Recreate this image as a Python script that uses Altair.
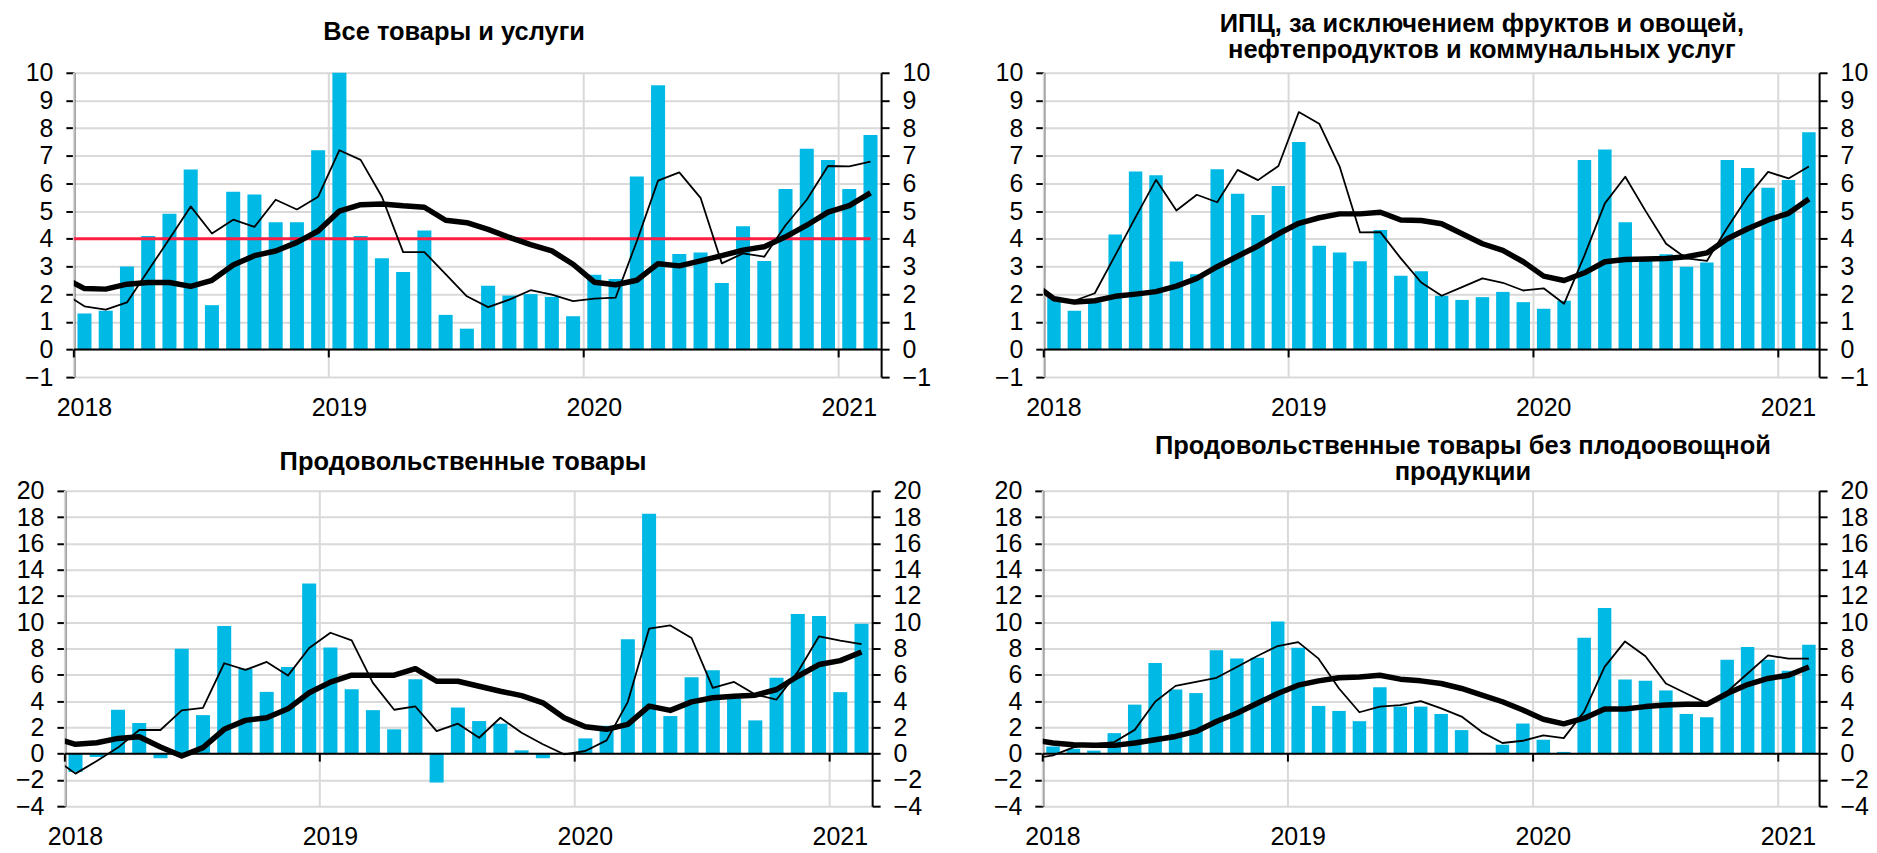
import altair as alt
import pandas as pd

# ---------------- data ----------------
years = [2018, 2019, 2020, 2021]          # Jan 2018 .. Feb 2021 monthly
target = 4.0                               # inflation target line (panel 1)

titles = [
    ["Все товары и услуги"],
    ["ИПЦ, за исключением фруктов и овощей,", "нефтепродуктов и коммунальных услуг"],
    ["Продовольственные товары"],
    ["Продовольственные товары без плодоовощной", "продукции"],
]

# monthly bars, Jan 2018 .. Feb 2021 (38 values)
bars_all = [1.3, 1.4, 3.0, 4.1, 4.9, 6.5, 1.6, 5.7, 5.6, 4.6, 4.6, 7.2,
            10.0, 4.1, 3.3, 2.8, 4.3, 1.25, 0.75, 2.3, 1.95, 2.0, 1.9, 1.2,
            2.7, 2.55, 6.25, 9.55, 3.45, 3.5, 2.4, 4.45, 3.2, 5.8, 7.25, 6.85,
            5.8, 7.75]
# lines, Dec 2017 .. Feb 2021 (39 values)
thin_all = [2.05, 1.56, 1.44, 1.7, 2.85, 4.0, 5.17, 4.19, 4.69, 4.43, 5.41, 5.06, 5.52,
            7.2, 6.85, 5.52, 3.52, 3.52, 2.72, 1.92, 1.53, 1.8, 2.14, 1.98, 1.75,
            1.84, 1.87, 3.91, 6.1, 6.4, 5.48, 3.11, 3.47, 3.35, 4.49, 5.41, 6.63,
            6.62, 6.79]
thick_all = [2.6, 2.2, 2.18, 2.36, 2.42, 2.42, 2.28, 2.5, 3.05, 3.39, 3.56, 3.87, 4.28,
             5.0, 5.23, 5.26, 5.19, 5.14, 4.67, 4.58, 4.34, 4.05, 3.79, 3.56, 3.08,
             2.43, 2.34, 2.5, 3.1, 3.02, 3.2, 3.39, 3.59, 3.71, 4.07, 4.49, 4.96,
             5.2, 5.66]

bars_core = [1.9, 1.4, 1.7, 4.15, 6.43, 6.3, 3.18, 2.72, 6.51, 5.63, 4.86, 5.91,
             7.5, 3.75, 3.5, 3.19, 4.32, 2.66, 2.83, 1.94, 1.79, 1.89, 2.08, 1.71,
             1.47, 1.76, 6.85, 7.23, 4.6, 3.2, 3.44, 2.99, 3.14, 6.85, 6.56, 5.84,
             6.12, 7.85]
thin_core = [2.33, 1.85, 1.76, 2.03, 3.4, 4.78, 6.13, 5.02, 5.59, 5.32, 6.49, 6.12, 6.63,
             8.58, 8.16, 6.61, 4.23, 4.24, 3.29, 2.42, 1.94, 2.25, 2.57, 2.41, 2.13,
             2.21, 1.65, 3.4, 5.28, 6.24, 5.0, 3.82, 3.29, 3.2, 4.4, 5.52, 6.42,
             6.18, 6.61]
thick_core = [2.37, 1.83, 1.71, 1.76, 1.92, 2.0, 2.09, 2.29, 2.57, 2.99, 3.37, 3.74, 4.18,
              4.56, 4.76, 4.9, 4.9, 4.96, 4.68, 4.66, 4.54, 4.18, 3.82, 3.58, 3.17,
              2.65, 2.49, 2.77, 3.17, 3.25, 3.27, 3.29, 3.35, 3.49, 4.0, 4.36, 4.68,
              4.92, 5.44]

bars_food = [-1.39, -0.25, 3.34, 2.33, -0.35, 7.99, 2.93, 9.71, 6.47, 4.7, 6.6, 12.95,
             8.07, 4.9, 3.31, 1.85, 5.66, -2.2, 3.51, 2.48, 2.28, 0.25, -0.35, 0.0,
             1.16, 2.12, 8.7, 18.26, 2.86, 5.82, 6.35, 4.2, 2.53, 5.77, 10.62, 10.47,
             4.68, 9.89]
thin_food = [-0.36, -1.52, -0.56, 0.46, 1.8, 1.8, 3.29, 3.49, 6.88, 6.37, 6.98, 5.94, 8.04,
             9.2, 8.62, 5.39, 3.34, 3.59, 1.72, 2.28, 1.21, 2.73, 1.59, 0.71, -0.05,
             0.2, 1.01, 3.94, 9.51, 9.76, 8.8, 5.0, 5.46, 4.5, 4.12, 6.22, 8.93,
             8.6, 8.34]
thick_food = [1.2, 0.71, 0.83, 1.16, 1.29, 0.5, -0.18, 0.46, 1.85, 2.53, 2.73, 3.41, 4.63,
              5.44, 5.97, 5.97, 5.97, 6.47, 5.51, 5.51, 5.13, 4.75, 4.42, 3.87, 2.73,
              2.05, 1.85, 2.23, 3.62, 3.29, 3.94, 4.25, 4.37, 4.45, 4.88, 5.89, 6.78,
              7.08, 7.74]

bars_foodx = [0.55, 0.38, 0.23, 1.56, 3.73, 6.9, 4.89, 4.61, 7.86, 7.25, 7.3, 10.05,
              8.06, 3.63, 3.25, 2.47, 5.06, 3.58, 3.58, 3.02, 1.79, 0.03, 0.68, 2.29,
              1.06, 0.13, 8.82, 11.08, 5.64, 5.54, 4.81, 3.02, 2.77, 7.15, 8.11, 7.15,
              6.3, 8.29]
thin_foodx = [-0.37, -0.13, 0.48, 0.73, 0.88, 1.81, 3.95, 5.16, 5.47, 5.77, 6.6, 7.43, 8.19,
              8.49, 7.23, 4.96, 3.15, 3.58, 3.7, 4.0, 3.45, 2.82, 1.64, 0.81, 0.98,
              1.39, 1.18, 3.2, 6.6, 8.54, 7.41, 5.34, 4.58, 3.83, 4.71, 6.1, 7.48,
              7.23, 7.23]
thick_foodx = [1.05, 0.81, 0.68, 0.63, 0.63, 0.81, 1.06, 1.31, 1.69, 2.44, 3.07, 3.83, 4.58,
               5.21, 5.54, 5.77, 5.84, 5.97, 5.67, 5.54, 5.34, 4.96, 4.46, 3.95, 3.32,
               2.62, 2.27, 2.7, 3.4, 3.4, 3.58, 3.7, 3.75, 3.75, 4.58, 5.26, 5.72,
               5.97, 6.6]

# ---------------- styling ----------------
BLUE = "#00B9E5"
RED = "#FF1F44"
GRID = "#D9D9D9"
FONT = "Liberation Sans"
FS = 25
TFS = 25.5
TLH = 26          # title line height
XLAB_PAD = 19     # gap between plot bottom and year labels


def panel(bars, thin, thick, ymin, ymax, step, width, height,
          title_lines, title_cx, title_y, target_value=None):
    n = len(bars)
    xs = alt.Scale(domain=[0, n], nice=False, zero=False)
    ys = alt.Scale(domain=[ymin, ymax], nice=False, zero=False)
    yvals = list(range(ymin, ymax + 1, step))
    year_df = pd.DataFrame({"year": years})
    y0 = years[0]

    common = dict(values=yvals, title=None, domainColor="black", domainWidth=2,
                  tickColor="black", tickWidth=2, tickSize=8, labelFont=FONT,
                  labelFontSize=FS, labelColor="black", labelPadding=13,
                  labelOverlap=False, labelFlush=False)
    left_axis = alt.Axis(orient="left", grid=True, gridColor=GRID, gridWidth=2, **common)
    right_axis = alt.Axis(orient="right", grid=False, **common)

    bar_df = pd.DataFrame({"m": list(range(n)), "v": bars})
    line_m = list(range(-1, n))
    thin_df = pd.DataFrame({"m": line_m, "v": thin})
    thick_df = pd.DataFrame({"m": line_m, "v": thick})
    one = pd.DataFrame({"z": [0]})

    layers = []
    # vertical year grid lines (this layer also carries the left axis + horizontal grid)
    layers.append(
        alt.Chart(year_df)
        .transform_calculate(t=f"(datum.year - {y0}) * 12", lo=f"{ymin}", hi=f"{ymax}")
        .mark_rule(color=GRID, strokeWidth=2)
        .encode(x=alt.X("t:Q", scale=xs, axis=None),
                y=alt.Y("lo:Q", scale=ys, axis=left_axis), y2="hi:Q")
    )
    layers.append(
        alt.Chart(bar_df)
        .transform_calculate(x0="datum.m + 0.17", x1="datum.m + 0.83", base="0")
        .mark_bar(color=BLUE)
        .encode(x=alt.X("x0:Q", scale=xs, axis=None), x2="x1:Q",
                y=alt.Y("v:Q", scale=ys, axis=None), y2="base:Q")
    )
    if target_value is not None:
        layers.append(
            alt.Chart(one).mark_rule(color=RED, strokeWidth=3, clip=True)
            .transform_calculate(a="-0.5", b=f"{n - 0.5}", t=f"{target_value}")
            .encode(x=alt.X("a:Q", scale=xs, axis=None), x2="b:Q",
                    y=alt.Y("t:Q", scale=ys, axis=None))
        )
    layers.append(
        alt.Chart(thin_df).transform_calculate(xc="datum.m + 0.5")
        .mark_line(color="black", strokeWidth=1.8, clip=True, strokeJoin="round")
        .encode(x=alt.X("xc:Q", scale=xs, axis=None), y=alt.Y("v:Q", scale=ys, axis=None))
    )
    # zero line
    layers.append(
        alt.Chart(one).mark_rule(color="black", strokeWidth=2)
        .transform_calculate(a="0", b=f"{n}", zero="0")
        .encode(x=alt.X("a:Q", scale=xs, axis=None), x2="b:Q",
                y=alt.Y("zero:Q", scale=ys, axis=None))
    )
    # year tick marks below the zero line
    ticklen = 8 * (ymax - ymin) / height
    layers.append(
        alt.Chart(year_df).mark_rule(color="black", strokeWidth=2)
        .transform_calculate(t=f"(datum.year - {y0}) * 12", zero="0", low=f"{-ticklen}")
        .encode(x=alt.X("t:Q", scale=xs, axis=None),
                y=alt.Y("zero:Q", scale=ys, axis=None), y2="low:Q")
    )
    layers.append(
        alt.Chart(thick_df).transform_calculate(xc="datum.m + 0.5")
        .mark_line(color="black", strokeWidth=5.5, clip=True, strokeJoin="round")
        .encode(x=alt.X("xc:Q", scale=xs, axis=None), y=alt.Y("v:Q", scale=ys, axis=right_axis))
    )
    # year labels under the plot, centred on January
    layers.append(
        alt.Chart(year_df)
        .transform_calculate(xm=f"(datum.year - {y0}) * 12 + 0.5", lab="'' + datum.year")
        .mark_text(font=FONT, fontSize=FS, color="black", align="center", baseline="top")
        .encode(x=alt.X("xm:Q", scale=xs, axis=None), y=alt.value(height + XLAB_PAD), text="lab:N")
    )
    # panel title (one text block, possibly two lines)
    layers.append(
        alt.Chart(pd.DataFrame({"t": ["\n".join(title_lines)]}))
        .mark_text(font=FONT, fontSize=TFS, fontWeight="bold", color="black",
                   align="center", baseline="alphabetic", lineBreak="\n", lineHeight=TLH)
        .encode(text="t:N", x=alt.value(title_cx), y=alt.value(title_y))
    )
    return alt.layer(*layers).resolve_axis(y="independent").properties(width=width, height=height)


p1 = panel(bars_all, thin_all, thick_all, -1, 10, 1, 809, 305, titles[0], 381, -33, target)
p2 = panel(bars_core, thin_core, thick_core, -1, 10, 1, 777, 305, titles[1], 439, -41)
p3 = panel(bars_food, thin_food, thick_food, -4, 20, 2, 809, 316, titles[2], 399, -21)
p4 = panel(bars_foodx, thin_foodx, thick_foodx, -4, 20, 2, 778, 316, titles[3], 421, -37)

spacer = (alt.Chart(pd.DataFrame({"a": [0]})).mark_point(opacity=0)
          .encode(x=alt.X("a:Q", axis=None), y=alt.Y("a:Q", axis=None))
          .properties(width=9, height=1))

row1 = alt.hconcat(spacer, alt.hconcat(p1, p2, spacing=163, bounds="flush"),
                   spacing=0, bounds="flush")
row2 = alt.hconcat(p3, p4, spacing=171, bounds="flush")

chart = (alt.vconcat(row1, row2, spacing=13)
         .properties(padding={"left": 7, "top": 3, "right": 0, "bottom": 0})
         .configure_view(stroke=None))

chart.save("out.html", embed_options={"renderer": "svg", "actions": False})
